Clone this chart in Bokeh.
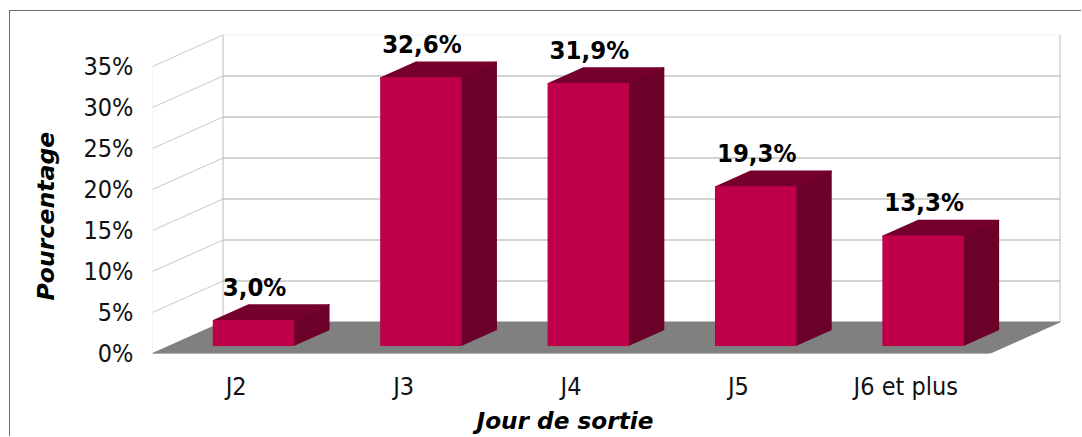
from bokeh.plotting import figure
from bokeh.embed import file_html
from bokeh.resources import INLINE
from bokeh.models import Range1d, FixedTicker, Title

categories = ["J2", "J3", "J4", "J5", "J6 et plus"]
values = [3.0, 32.6, 31.9, 19.3, 13.3]
value_labels = ["3,0%", "32,6%", "31,9%", "19,3%", "13,3%"]
y_ticks = [0, 5, 10, 15, 20, 25, 30, 35]
y_tick_labels = ["0%", "5%", "10%", "15%", "20%", "25%", "30%", "35%"]
x_title = "Jour de sortie"
y_title = "Pourcentage"

FONT = "DejaVu Sans Condensed"
TITLE_FONT = "DejaVu Sans"
PX_CAT = 167.4
PX_PCT = 8.2
DEPTH_X = 70.5 / PX_CAT
DEPTH_Y = 31.5 / PX_PCT
BAR_W = 0.478

# the picture's own frame: thin line at the left and top of the figure
M_LEFT, M_TOP = 9, 10
FRAME_L, FRAME_B = 152 - M_LEFT - 1, 84


def proj(x, v, d):
    return x + d * DEPTH_X, v + d * DEPTH_Y


def poly(points):
    pts = [proj(*q) for q in points]
    return [a for a, _ in pts], [b for _, b in pts]


p = figure(width=1082 - M_LEFT - 1, height=437 - M_TOP - 1, output_backend="svg", toolbar_location=None,
           x_range=Range1d(0, 930 / PX_CAT), y_range=Range1d(0, (353 - M_TOP - 1) / PX_PCT),
           min_border_left=FRAME_L, min_border_right=0, min_border_top=0, min_border_bottom=FRAME_B,
           outline_line_color=None, background_fill_color="white",
           margin=(M_TOP, 0, 0, M_LEFT),
           styles={"border-left": "1px solid #6a6a6a", "border-top": "1px solid #6a6a6a"})
p.grid.visible = False

# walls
n = len(categories)
for t in y_ticks:
    xs, ys = poly([(0, t, 0), (0, t, 1)])
    p.line(xs, ys, line_color="#c8c8c8" if t else "#e8e8e8", line_width=1)
    if t:
        xs, ys = poly([(0, t, 1), (n, t, 1)])
        p.line(xs, ys, line_color="#f0f0f0" if t == y_ticks[-1] else "#a8a8a8", line_width=1.2)
for t0, d in [(0, 0), (0, 1), (n, 1)]:
    xs, ys = poly([(t0, 0, d), (t0, y_ticks[-1], d)])
    p.line(xs, ys, line_color="#ececec" if d == 0 else "#bcbcbc", line_width=1)

# floor
xs, ys = poly([(0, 0, 0), (0, 0, 1), (n, 0, 1), (n, 0, 0)])
p.patch(xs, ys, fill_color="#808080", line_color="#808080", line_width=1)

# bars
d0, d1 = 0.26, 0.76
SHIFT = -0.006
for i, v in enumerate(values):
    l, r = i + 0.5 + SHIFT - BAR_W / 2, i + 0.5 + SHIFT + BAR_W / 2
    faces = [
        ([(r, 0, d0), (r, 0, d1), (r, v, d1), (r, v, d0)], "#6b0029"),
        ([(l, v, d0), (l, v, d1), (r, v, d1), (r, v, d0)], "#75002d"),
        ([(l, 0, d0), (l, v, d0), (r, v, d0), (r, 0, d0)], "#be004a"),
    ]
    for pts, col in faces:
        xs, ys = poly(pts)
        p.patch(xs, ys, fill_color=col, line_color=col, line_width=1.5, line_join="round")

# value labels
cx = [i + 0.5 + d0 * DEPTH_X for i in range(n)]
cy = [v + d0 * DEPTH_Y for v in values]
p.text(cx, cy, text=value_labels, text_font={"value": FONT}, text_font_style="bold",
       text_font_size="25.5px", text_color="#000000", text_align="center",
       text_baseline="middle", y_offset=-34)

# axes
p.yaxis.ticker = FixedTicker(ticks=y_ticks)
p.yaxis.major_label_overrides = {t: s for t, s in zip(y_ticks, y_tick_labels)}
p.xaxis.ticker = FixedTicker(ticks=[i + 0.5 for i in range(n)])
p.xaxis.major_label_overrides = {i + 0.5: c for i, c in enumerate(categories)}
for ax in (p.xaxis, p.yaxis):
    ax.axis_line_color = None
    ax.major_tick_line_color = None
    ax.minor_tick_line_color = None
    ax.major_label_text_font = FONT
    ax.major_label_text_font_size = "25px"
    ax.major_label_text_color = "#111111"
p.yaxis.major_label_standoff = 13
p.xaxis.major_label_standoff = 12
# a blank, tiny axis label keeps the rotated title clear of the tick labels
p.yaxis.axis_label = " "
p.yaxis.axis_label_text_font_size = "1px"
p.yaxis.axis_label_standoff = 12

# axis titles
p.add_layout(Title(text=x_title, text_font=TITLE_FONT, text_font_style="bold italic", text_font_size="23.2px",
                   text_color="#000000", align="left", offset=324, standoff=3), "below")
p.add_layout(Title(text=y_title, text_font=TITLE_FONT, text_font_style="bold italic", text_font_size="23.6px",
                   text_color="#000000", align="left", offset=53, standoff=10), "left")

open("out.html", "w").write(file_html(p, INLINE))
